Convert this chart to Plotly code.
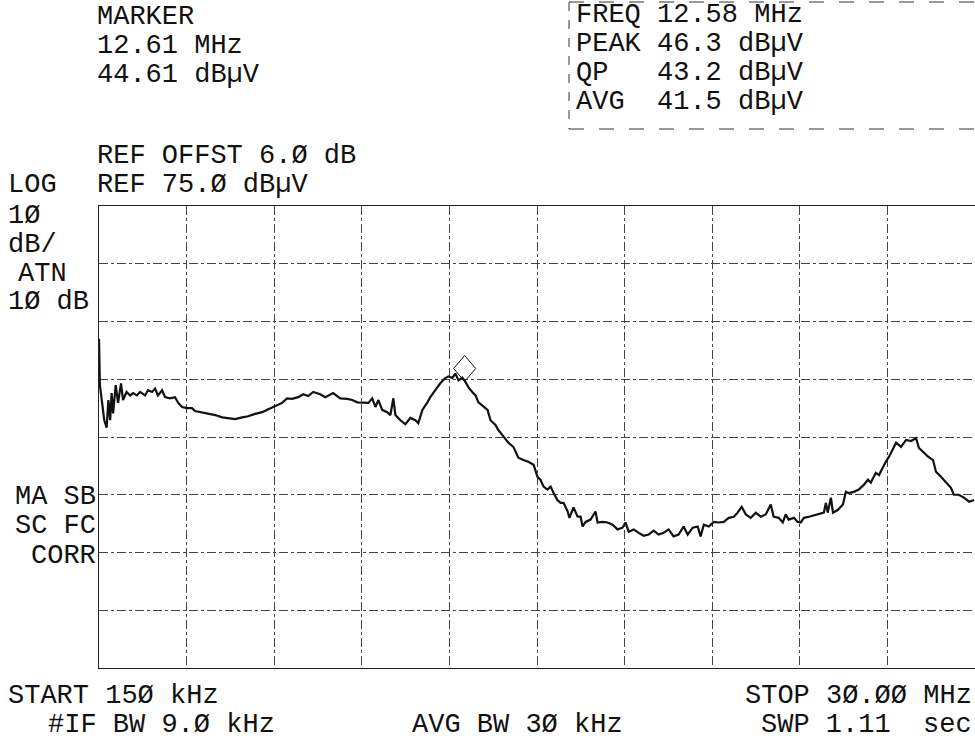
import plotly.graph_objects as go

# ---- data ----
freq_mhz = [0.15, 0.18, 0.33, 0.41, 0.47, 0.53, 0.58, 0.63, 0.72, 0.80, 0.90, 0.97, 1.09, 1.21, 1.31, 1.44,
            1.55, 1.72, 1.82, 1.96, 2.06, 2.16, 2.30, 2.40, 2.57, 2.74, 2.85, 2.98, 3.15, 3.32, 3.42, 3.66,
            3.87, 4.11, 4.35, 4.55, 4.79, 5.03, 5.23, 5.47, 5.71, 5.92, 6.15, 6.39, 6.56, 6.73, 6.94, 7.11,
            7.28, 7.45, 7.69, 7.86, 8.13, 8.37, 8.61, 8.78, 8.95, 9.16, 9.33, 9.46, 9.57, 9.67, 9.80, 9.97,
            10.08, 10.18, 10.25, 10.42, 10.59, 10.76, 10.93, 11.03, 11.17, 11.34, 11.44, 11.61, 11.78, 11.95,
            12.06, 12.19, 12.29, 12.40, 12.53, 12.64, 12.74, 12.87, 12.98, 13.08, 13.25, 13.39, 13.49, 13.66,
            13.76, 13.93, 14.10, 14.27, 14.44, 14.61, 14.78, 14.96, 15.09, 15.19, 15.30, 15.43, 15.54, 15.64,
            15.77, 15.88, 15.98, 16.12, 16.18, 16.32, 16.46, 16.56, 16.63, 16.73, 16.90, 17.07, 17.14, 17.31,
            17.48, 17.65, 17.82, 17.99, 18.09, 18.20, 18.37, 18.54, 18.71, 18.88, 19.05, 19.22, 19.39, 19.56,
            19.73, 19.90, 20.07, 20.21, 20.38, 20.55, 20.65, 20.76, 20.93, 21.10, 21.27, 21.44, 21.61, 21.78,
            21.91, 22.05, 22.19, 22.36, 22.53, 22.70, 22.87, 23.04, 23.14, 23.31, 23.45, 23.55, 23.65, 23.83,
            23.96, 24.06, 24.17, 24.34, 24.51, 24.68, 24.85, 24.92, 24.98, 25.09, 25.16, 25.33, 25.50, 25.60,
            25.70, 25.87, 26.04, 26.21, 26.35, 26.45, 26.62, 26.73, 26.86, 26.96, 27.07, 27.20, 27.31, 27.48,
            27.65, 27.82, 27.99, 28.09, 28.23, 28.40, 28.57, 28.67, 28.84, 29.01, 29.18, 29.28, 29.45, 29.62,
            29.80, 29.97]
level_dbuv = [52.0, 44.0, 37.9, 36.6, 41.4, 37.9, 42.6, 39.1, 44.0, 40.9, 44.3, 41.4, 42.8, 42.2, 42.6, 42.2,
              42.8, 42.2, 43.1, 42.8, 43.4, 42.2, 43.1, 41.9, 41.7, 41.9, 40.9, 40.2, 40.0, 40.0, 39.5, 39.3,
              39.1, 38.8, 38.4, 38.3, 38.1, 38.4, 38.6, 39.0, 39.3, 39.8, 40.3, 40.9, 41.7, 41.6, 41.9, 42.4,
              42.1, 42.8, 42.4, 41.9, 42.6, 41.7, 41.6, 41.4, 41.0, 40.9, 40.9, 41.7, 40.2, 41.4, 39.7, 39.3,
              38.8, 41.7, 38.8, 37.9, 37.2, 38.3, 37.9, 37.4, 39.7, 41.0, 41.9, 43.1, 44.3, 45.2,
              45.5, 45.2, 46.0, 44.8, 45.3, 44.5, 43.6, 42.8, 42.2, 41.0, 40.2, 39.7, 37.9, 37.1,
              36.2, 35.0, 34.0, 33.3, 31.4, 31.0, 30.7, 30.2, 28.1, 27.6, 26.4, 25.9, 26.4, 25.3,
              24.1, 23.6, 23.6, 22.1, 21.0, 22.8, 21.2, 21.2, 19.5, 20.3, 20.7, 22.1, 20.2, 20.3,
              20.2, 19.8, 19.0, 19.3, 20.2, 18.6, 19.0, 18.4, 17.9, 18.1, 18.8, 18.1, 18.4, 19.0,
              17.8, 18.1, 19.5, 18.1, 19.3, 19.5, 17.8, 19.8, 19.5, 20.3, 20.2, 20.3, 21.0, 21.2,
              21.9, 22.9, 21.6, 21.0, 21.9, 21.2, 21.6, 23.3, 21.2, 21.0, 20.2, 21.6, 20.7, 21.0,
              20.3, 20.2, 21.0, 21.2, 21.4, 21.6, 21.9, 23.6, 21.9, 24.5, 21.9, 22.4, 23.3, 25.5,
              25.3, 25.5, 25.9, 26.7, 27.6, 27.1, 28.8, 28.4, 29.8, 30.7, 31.6, 32.8, 34.0, 33.3,
              34.5, 34.3, 34.8, 33.1, 32.4, 31.6, 31.0, 29.0, 28.1, 27.1, 26.2, 25.0, 25.0, 24.5,
              23.8, 24.1]

start_mhz = 0.15
stop_mhz = 30.0
ref_level = 75.0
db_per_div = 10
n_vdiv = 8
n_hdiv = 10

marker_freq = [12.61]
marker_level = [44.61]

header_left = ["MARKER", "12.61 MHz", "44.61 dBµV"]
ref_lines = ["REF OFFST 6.Ø dB", "REF 75.Ø dBµV"]
box_lines = ["FREQ 12.58 MHz", "PEAK 46.3 dBµV", "QP   43.2 dBµV", "AVG  41.5 dBµV"]

# ---- layout geometry (pixels) ----
W, H = 975, 740
L, R, T, B = 99, 0, 206, 72
PW, PH = W - L - R, H - T - B

def px(x):
    return (x - L) / PW

def py(y):
    return (H - B - y) / PH

FONT = "Liberation Mono"
FS = 27
INK = "#111111"

fig = go.Figure()
fig.add_trace(go.Scatter(x=freq_mhz, y=level_dbuv, mode="lines",
                         line=dict(color=INK, width=2.2), hoverinfo="skip", showlegend=False))

bottom = ref_level - n_vdiv * db_per_div
axis_style = dict(showticklabels=False, ticks="", showgrid=True, gridcolor="#444", gridwidth=1,
                  griddash="dashdot", zeroline=False, showline=True, linecolor="#222", linewidth=1,
                  mirror=True)
fig.update_xaxes(range=[start_mhz, stop_mhz], tick0=start_mhz, dtick=(stop_mhz - start_mhz) / n_hdiv,
                 **axis_style)
fig.update_yaxes(range=[bottom, ref_level], tick0=bottom, dtick=db_per_div, **axis_style)

# marker diamond anchored on the marker point
fig.add_shape(type="path", xref="x", yref="y", xsizemode="pixel", ysizemode="pixel",
              xanchor=marker_freq[0], yanchor=marker_level[0],
              path="M 0 0 L 11 13 L 0 26 L -11 13 Z", line=dict(color=INK, width=1))

anns = []
def txt(s, x, y, anchor="left"):
    anns.append(dict(text=s, x=px(x), y=py(y), xref="paper", yref="paper", showarrow=False,
                     xanchor=anchor, yanchor="middle", font=dict(family=FONT, size=FS, color=INK)))

for i, s in enumerate(header_left):
    txt(s, 95, 17 + 29 * i)
txt(ref_lines[0], 95, 156)
txt(ref_lines[1], 95, 185)
txt("LOG", 6, 185)
txt("1Ø", 6, 216)
txt("dB/", 6, 245)
txt("ATN", 16, 274)
txt("1Ø dB", 6, 302)
txt("MA SB", 98, 497, "right")
txt("SC FC", 98, 526, "right")
txt("CORR", 98, 556, "right")
txt("START 15Ø kHz", 6, 696)
txt("#IF BW 9.Ø kHz", 46, 725)
txt("AVG BW 3Ø kHz", 410, 725)
txt("STOP 3Ø.ØØ MHz", 974, 696, "right")
txt("SWP 1.11  sec", 974, 725, "right")
for i, s in enumerate(box_lines):
    txt(s, 574, 15 + 29 * i)

fig.add_shape(type="line", xref="paper", yref="paper", x0=px(569), x1=px(569), y0=py(2), y1=py(129),
              line=dict(color="#333", width=1, dash="dash"))
fig.add_shape(type="line", xref="paper", yref="paper", x0=px(569), x1=px(975), y0=py(129), y1=py(129),
              line=dict(color="#333", width=1, dash="longdash"))
fig.add_shape(type="line", xref="paper", yref="paper", x0=px(569), x1=px(975), y0=py(2), y1=py(2),
              line=dict(color="#333", width=1, dash="longdash"))

fig.update_layout(width=W, height=H, margin=dict(l=L, r=R, t=T, b=B, pad=0),
                  paper_bgcolor="white", plot_bgcolor="white", annotations=anns, showlegend=False)

fig.write_html("out.html", config={"displayModeBar": False},
               post_script="document.body.style.margin='0';document.body.style.overflow='hidden';")
